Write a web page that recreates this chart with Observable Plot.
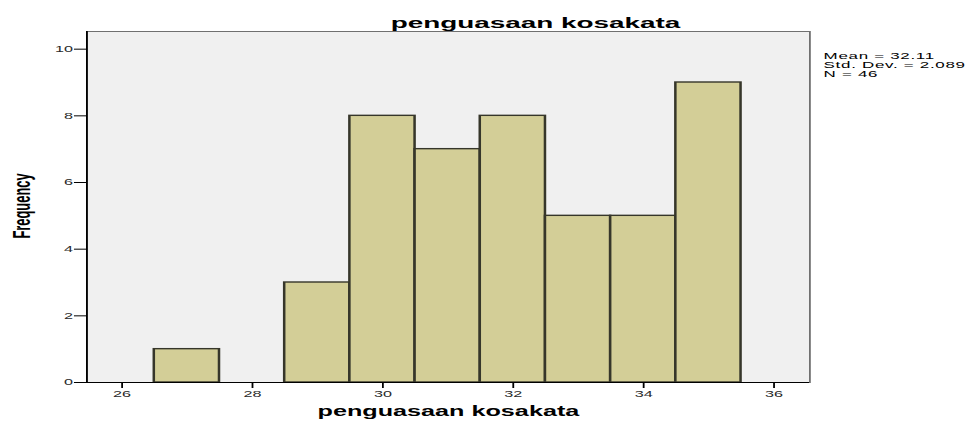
<!DOCTYPE html>
<html><head><meta charset="utf-8">
<script src="https://cdn.jsdelivr.net/npm/d3@7"></script>
<script src="https://cdn.jsdelivr.net/npm/@observablehq/plot@0.6"></script>
<style>body{margin:0;background:#fff;} #chart svg{display:block}</style>
</head><body><div id="chart"></div>
<script>
const binCenters = [27, 29, 30, 31, 32, 33, 34, 35];
const frequencies = [1, 3, 8, 7, 8, 5, 5, 9];
const binWidth = 1;
const xTicks = [26, 28, 30, 32, 34, 36];
const yTicks = [0, 2, 4, 6, 8, 10];
const titleText = "penguasaan kosakata";
const xLabel = "penguasaan kosakata";
const yLabel = "Frequency";
const statsLines = ["Mean = 32.11", "Std. Dev. = 2.089", "N = 46"];

const bins = binCenters.map((c, i) => ({x1: c - binWidth / 2, x2: c + binWidth / 2, y: frequencies[i]}));

const SX = 1.8, W = 968, H = 423, LW = W / SX;
const xDom = [25.46, 36.55];
const plotL = 86 / SX, plotR = 809 / SX;

const chart = Plot.plot({
  width: LW, height: H,
  marginLeft: plotL, marginRight: LW - plotR, marginTop: 31, marginBottom: 41,
  x: {domain: xDom},
  y: {domain: [0, 10.53]},
  style: {fontFamily: "'Liberation Sans', Arial, sans-serif", background: "#fff", color: "#000", overflow: "visible"},
  marks: [
    Plot.frame({fill: "#f0f0f0", stroke: "#707070", strokeWidth: 1}),
    Plot.rectY(bins, {x1: "x1", x2: "x2", y: "y", fill: "#d3ce97", stroke: "#36362a", strokeWidth: 1.4}),
    Plot.ruleX([xDom[0]], {stroke: "#000", strokeWidth: 1}),
    Plot.ruleY([0], {stroke: "#000", strokeWidth: 1}),
    Plot.axisY({ticks: yTicks, tickSize: 6.7, tickPadding: 1, fontSize: 9, label: null, stroke: "#000", fill: "#2a2a2a"}),
    Plot.axisX({ticks: xTicks, tickSize: 6, tickPadding: 2, fontSize: 9, label: null, stroke: "#000", fill: "#2a2a2a"}),
    Plot.text([titleText], {frameAnchor: "top", dy: -15, dx: 297 - (plotL + plotR) / 2, fontSize: 15.5, fontWeight: "bold", fill: "#000"}),
    Plot.text([xLabel], {frameAnchor: "bottom", dy: 33, fontSize: 14, fontWeight: "bold", fill: "#000"}),
    Plot.text([yLabel], {frameAnchor: "left", textAnchor: "middle", rotate: -90, dx: 12.2 - plotL, dy: -1, fontSize: 12.9, fontWeight: "bold", fill: "#000"}),
    Plot.text([statsLines.join("\n")], {frameAnchor: "top-right", textAnchor: "start", lineAnchor: "top", dx: 822.7 / SX - plotR, dy: 20.5, fontSize: 9.4, lineHeight: 1.0, fill: "#000", style: "letter-spacing:0.4px"})
  ]
});

chart.querySelectorAll("text").forEach(t => {
  if (statsLines.some(s => t.textContent.includes("Mean"))) {}
});
// widen the stats block slightly via letter spacing
chart.querySelectorAll("g[aria-label='text'] text").forEach(t => {
  if (t.textContent.includes("Mean")) t.setAttribute("letter-spacing", "0.4");
});

chart.setAttribute("viewBox", `0 0 ${LW} ${H}`);
chart.setAttribute("width", W);
chart.setAttribute("height", H);
chart.setAttribute("preserveAspectRatio", "none");
chart.style.width = W + "px";
chart.style.height = H + "px";
chart.style.maxWidth = "none";
document.getElementById("chart").appendChild(chart);
</script>
</body></html>
